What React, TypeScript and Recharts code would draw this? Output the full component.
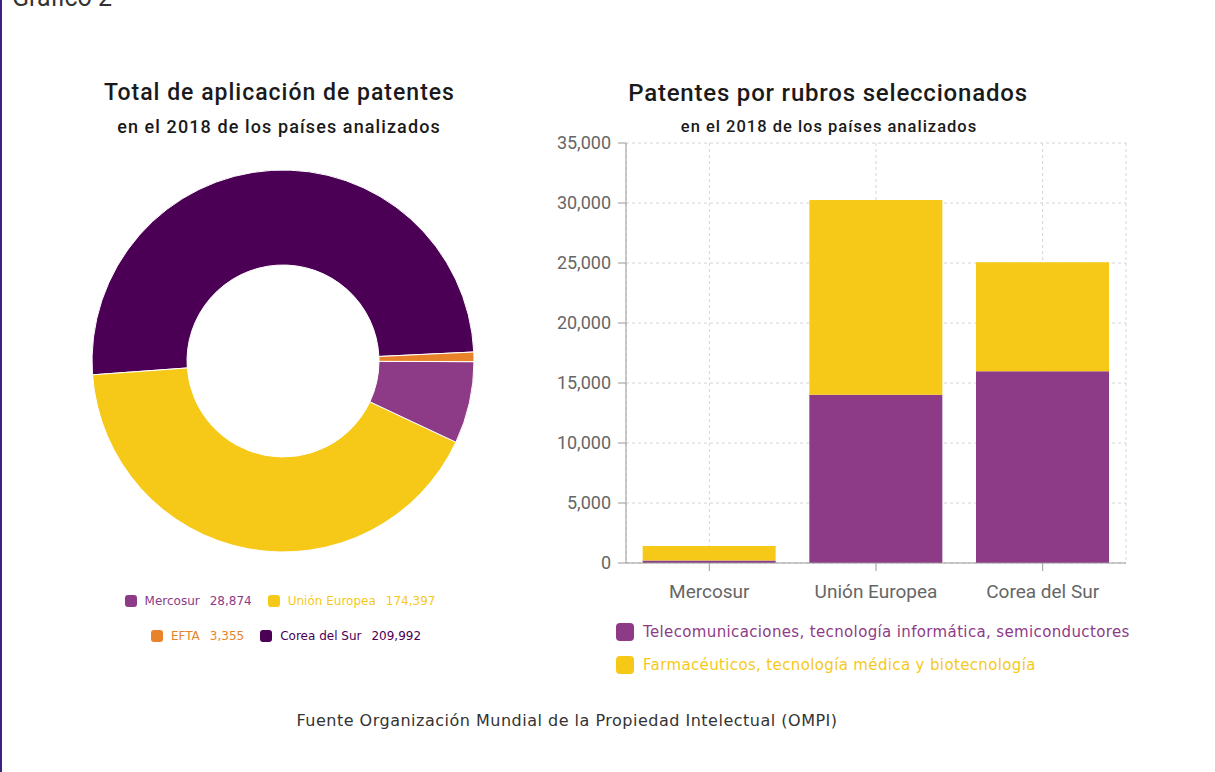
import { PieChart, Pie, Cell, BarChart, Bar, XAxis, YAxis, CartesianGrid } from "recharts";

// donut: total patent applications 2018
const regions = ["Mercosur", "Unión Europea", "EFTA", "Corea del Sur"];
const regionTotals = [28874, 174397, 3355, 209992];
const regionColors = ["#8e3b87", "#f6c918", "#e8832a", "#4b0055"];
// slices go counter-clockwise from 3 o'clock in this order
const sliceOrder = [3, 1, 0, 2];

// stacked bars: patents by selected sector
const barCategories = ["Mercosur", "Unión Europea", "Corea del Sur"];
const telecomValues = [200, 14030, 15980];
const pharmaValues = [1220, 16220, 9090];
const sectorNames = [
  "Telecomunicaciones, tecnología informática, semiconductores",
  "Farmacéuticos, tecnología médica y biotecnología",
];
const sectorColors = ["#8e3b87", "#f6c918"];
const yTicks = [0, 5000, 10000, 15000, 20000, 25000, 30000, 35000];

const fmt = (v: number) => v.toLocaleString("en-US");

const pieData = sliceOrder.map((i) => ({
  name: regions[i],
  value: regionTotals[i],
  color: regionColors[i],
}));

const barData = barCategories.map((c, i) => ({
  name: c,
  telecom: telecomValues[i],
  pharma: pharmaValues[i],
}));

const titleStyle: React.CSSProperties = {
  position: "absolute",
  textAlign: "center",
  fontFamily: "Roboto, sans-serif",
  color: "#1a1a1a",
  whiteSpace: "nowrap",
};

const LegendItem = ({ color, label, value }: { color: string; label: string; value: string }) => (
  <span style={{ display: "inline-flex", alignItems: "center", margin: "0 8px", color }}>
    <span
      style={{
        width: 12,
        height: 12,
        borderRadius: 3,
        background: color,
        display: "inline-block",
        marginRight: 8,
      }}
    />
    <span>{label}</span>
    <span style={{ marginLeft: 10 }}>{value}</span>
  </span>
);

export default function App() {
  const rowA = [0, 1];
  const rowB = [2, 3];
  return (
    <div
      style={{
        position: "absolute",
        left: 0,
        top: 0,
        width: 1215,
        height: 772,
        background: "#fff",
        overflow: "hidden",
        borderLeft: "2px solid #3d2183",
        boxSizing: "border-box",
      }}
    >
      <div
        style={{
          position: "absolute",
          left: 10,
          top: -15,
          fontFamily: "Roboto, sans-serif",
          fontSize: 25,
          lineHeight: "25px",
          color: "#333",
        }}
      >
        Gráfico 2
      </div>

      {/* left: donut */}
      <div
        style={{ ...titleStyle, left: 0, width: 555, top: 79, fontSize: 23, fontWeight: 500, lineHeight: "28px", letterSpacing: 1 }}
      >
        Total de aplicación de patentes
      </div>
      <div
        style={{ ...titleStyle, left: 0, width: 554, top: 116, fontSize: 18, fontWeight: 500, lineHeight: "22px", letterSpacing: 1.1 }}
      >
        en el 2018 de los países analizados
      </div>
      <div style={{ position: "absolute", left: -2, top: 120 }}>
        <PieChart width={570} height={480}>
          <Pie
            data={pieData}
            dataKey="value"
            nameKey="name"
            cx={278}
            cy={236}
            innerRadius={96}
            outerRadius={191}
            startAngle={2.7}
            endAngle={362.7}
            stroke="#ffffff"
            strokeWidth={1}
            isAnimationActive={false}
          >
            {pieData.map((d) => (
              <Cell key={d.name} fill={d.color} />
            ))}
          </Pie>
        </PieChart>
      </div>
      {[rowA, rowB].map((row, r) => (
        <div
          key={r}
          style={{
            position: "absolute",
            left: r === 0 ? -4 : 2,
            width: 564,
            top: r === 0 ? 592 : 627,
            textAlign: "center",
            fontFamily: "DejaVu Sans, sans-serif",
            fontSize: 12,
            lineHeight: "18px",
          }}
        >
          {row.map((i) => (
            <LegendItem key={i} color={regionColors[i]} label={regions[i]} value={fmt(regionTotals[i])} />
          ))}
        </div>
      ))}

      {/* right: stacked bars */}
      <div
        style={{ ...titleStyle, left: 526, width: 600, top: 79, fontSize: 24, fontWeight: 500, lineHeight: "28px", letterSpacing: 0.8 }}
      >
        Patentes por rubros seleccionados
      </div>
      <div
        style={{ ...titleStyle, left: 527, width: 600, top: 117, fontSize: 16.5, fontWeight: 500, lineHeight: "20px", letterSpacing: 1 }}
      >
        en el 2018 de los países analizados
      </div>
      <div style={{ position: "absolute", left: 540, top: 120 }}>
        <BarChart
          width={600}
          height={500}
          data={barData}
          margin={{ top: 23, right: 16, bottom: 0, left: 0 }}
          barCategoryGap="10%"
        >
          <CartesianGrid stroke="#d4d4d4" strokeDasharray="3 3" />
          <XAxis
            dataKey="name"
            height={57}
            stroke="#999"
            tickSize={8}
            tickMargin={14}
            tick={{ fill: "#666", fontSize: 19, fontFamily: "Roboto, sans-serif" }}
          />
          <YAxis
            width={84}
            domain={[0, 35000]}
            ticks={yTicks}
            tickFormatter={fmt}
            stroke="#999"
            tickSize={8}
            tickMargin={7}
            tick={{ fill: "#666", fontSize: 18, fontFamily: "Roboto, sans-serif" }}
          />
          <Bar dataKey="telecom" name={sectorNames[0]} stackId="s" fill={sectorColors[0]} isAnimationActive={false} />
          <Bar dataKey="pharma" name={sectorNames[1]} stackId="s" fill={sectorColors[1]} isAnimationActive={false} />
        </BarChart>
      </div>
      {sectorNames.map((n, i) => (
        <div
          key={n}
          style={{
            position: "absolute",
            left: 614,
            top: i === 0 ? 622 : 655,
            display: "flex",
            alignItems: "center",
            fontFamily: "DejaVu Sans, sans-serif",
            fontSize: 15,
            letterSpacing: 0.36,
            lineHeight: "20px",
            color: sectorColors[i],
            whiteSpace: "nowrap",
          }}
        >
          <span
            style={{
              width: 18,
              height: 18,
              borderRadius: 4,
              background: sectorColors[i],
              display: "inline-block",
              marginRight: 9,
            }}
          />
          {n}
        </div>
      ))}

      <div
        style={{
          position: "absolute",
          left: 0,
          width: 1130,
          top: 711,
          textAlign: "center",
          fontFamily: "DejaVu Sans, sans-serif",
          fontSize: 16,
          letterSpacing: 0.5,
          lineHeight: "20px",
          color: "#333",
        }}
      >
        Fuente Organización Mundial de la Propiedad Intelectual (OMPI)
      </div>
    </div>
  );
}
